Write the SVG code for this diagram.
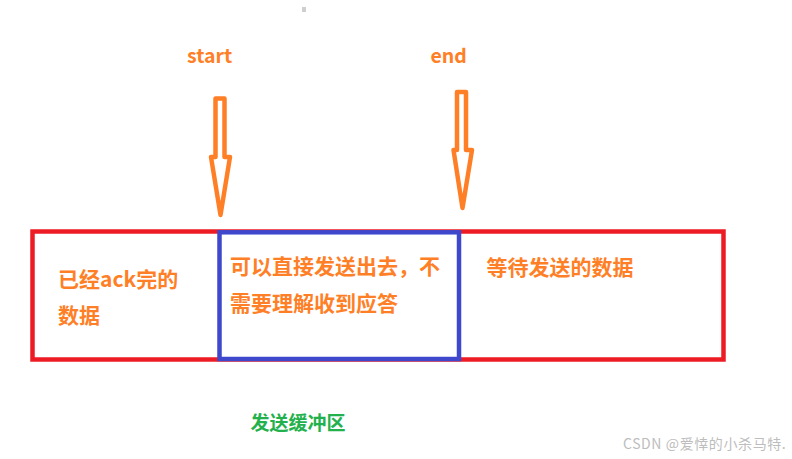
<svg xmlns="http://www.w3.org/2000/svg" width="792" height="459" viewBox="0 0 792 459">
<style>
.t{font-family:"Noto Sans CJK SC","Noto Sans",sans-serif;font-weight:bold;fill:#FF7F27;font-size:21px}
.lbl{font-family:"Noto Sans CJK SC","Noto Sans",sans-serif;font-weight:bold;fill:#FF7F27;font-size:19.5px}
.arrow{fill:#fff;stroke:#FF7F27;stroke-width:4.5;stroke-linejoin:round}
.wm{font-family:"Noto Sans CJK SC","Noto Sans",sans-serif;fill:#bdbdbd;font-size:14px;letter-spacing:0.6px}
</style>
<rect width="792" height="459" fill="#fff"/>
<rect x="302" y="7" width="4" height="5" fill="#cfcfcf"/>
<g id="start-label"><text class="lbl" x="187" y="63">start</text></g>
<g id="end-label"><text class="lbl" x="430.5" y="63">end</text></g>
<g id="connectors">
<path class="arrow" d="M215.5,98.5 H224.5 V157 H230 L220.5,215 L211,157 H215.5 Z"/>
<path class="arrow" d="M457,92 H466 V150 H472 L462.5,208 L453.5,150 H457 Z"/>
</g>
<g id="buffer">
<rect x="32.5" y="231.5" width="691" height="128" fill="none" stroke="#ED1C24" stroke-width="4.5"/>
</g>
<g id="acked">
<text class="t" x="58" y="287">已经ack完的</text>
<text class="t" x="58" y="323">数据</text>
</g>
<g id="sendable">
<rect x="219.5" y="232.3" width="239.5" height="126.7" fill="none" stroke="#3F48CC" stroke-width="4.5"/>
<text class="t" x="230" y="274">可以直接发送出去，不</text>
<text class="t" x="230" y="311">需要理解收到应答</text>
</g>
<g id="waiting">
<text class="t" x="486.5" y="275">等待发送的数据</text>
</g>
<g id="buffer-label">
<text x="250.5" y="430" font-family="'Noto Sans CJK SC','Noto Sans',sans-serif" font-weight="bold" font-size="19px" fill="#22B14C">发送缓冲区</text>
</g>
<text class="wm" x="623" y="449">CSDN @爱悻的小杀马特.</text>
</svg>
